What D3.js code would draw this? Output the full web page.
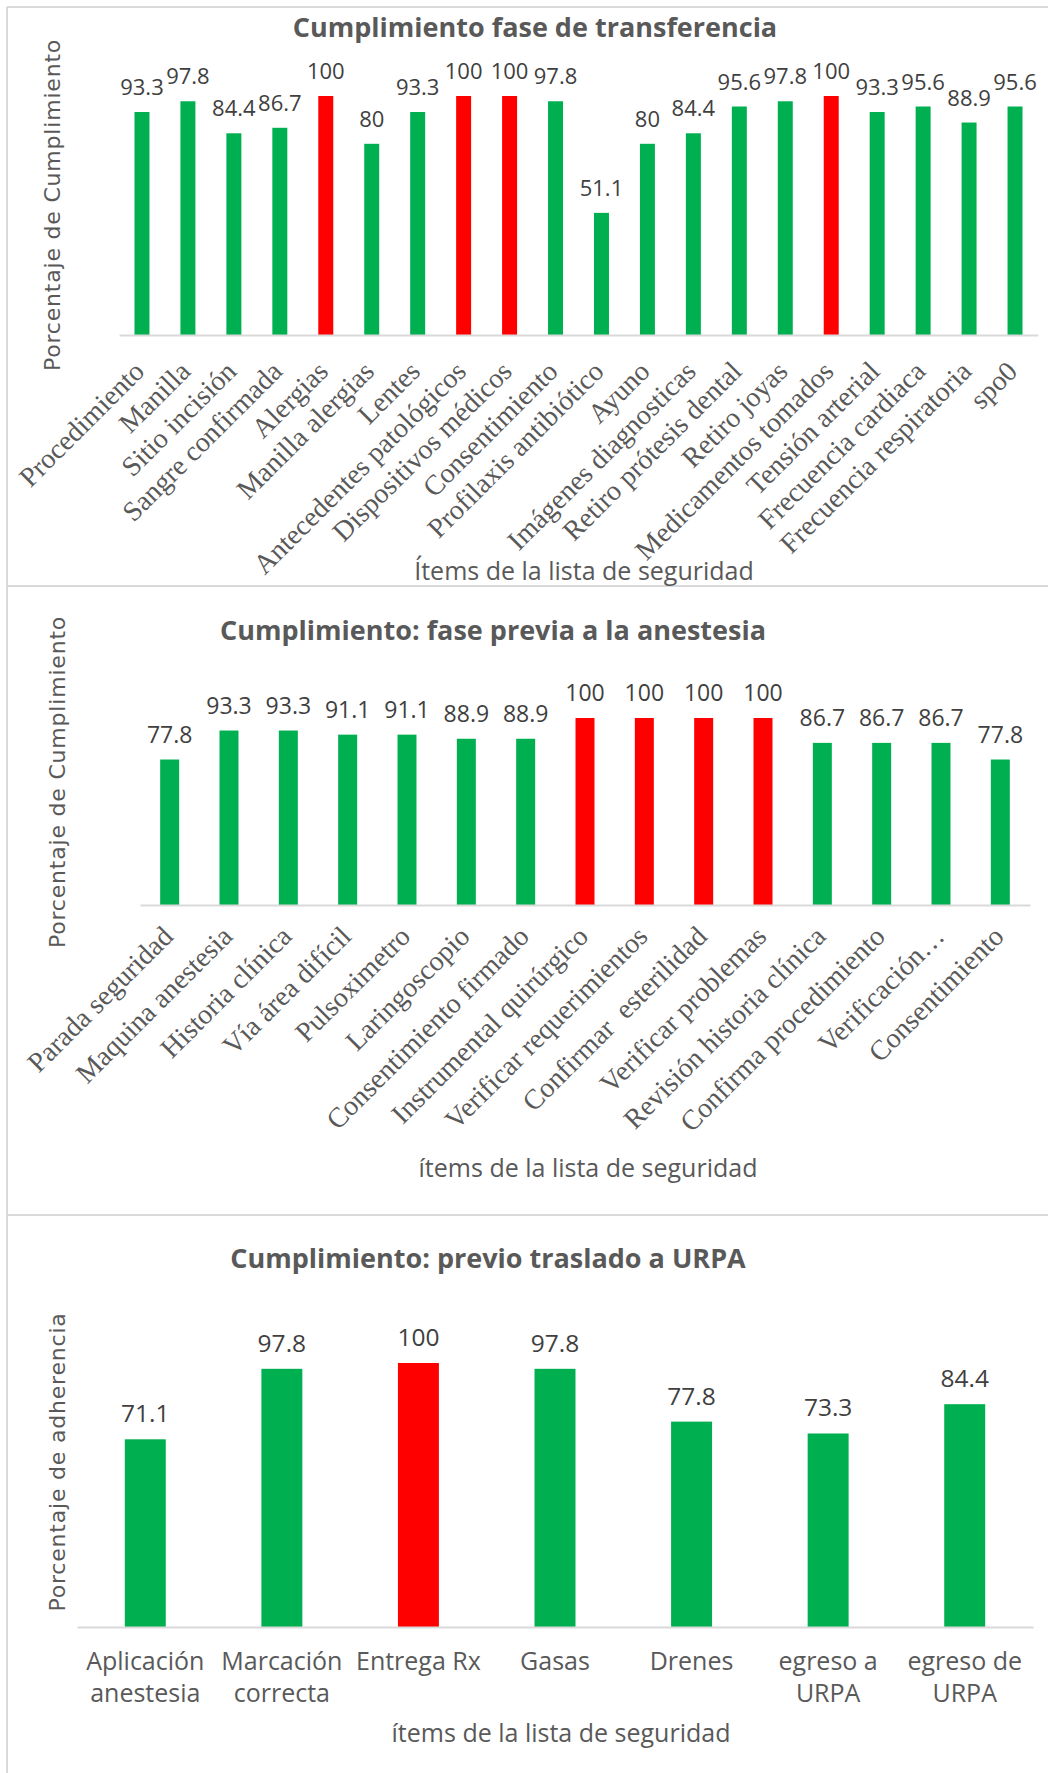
<!DOCTYPE html>
<html>
<head>
<meta charset="utf-8">
<script src="https://cdn.jsdelivr.net/npm/d3@7"></script>
<style>
  html, body { margin: 0; padding: 0; background: #fff; }
  svg text { white-space: pre; }
</style>
</head>
<body>
<div id="chart"></div>
<script>
// panel 1: fase de transferencia
const transfItems = [
  "Procedimiento", "Manilla", "Sitio incisión", "Sangre confirmada", "Alergias",
  "Manilla alergias", "Lentes", "Antecedentes patológicos", "Dispositivos médicos",
  "Consentimiento", "Profilaxis antibiótico", "Ayuno", "Imágenes diagnosticas",
  "Retiro prótesis dental", "Retiro joyas", "Medicamentos tomados", "Tensión arterial",
  "Frecuencia cardiaca", "Frecuencia respiratoria", "spo0"
];
const transfValues = [93.3, 97.8, 84.4, 86.7, 100, 80, 93.3, 100, 100, 97.8,
  51.1, 80, 84.4, 95.6, 97.8, 100, 93.3, 95.6, 88.9, 95.6];

// panel 2: fase previa a la anestesia
const previaItems = [
  "Parada seguridad", "Maquina anestesia", "Historia clínica", "Vía área difícil",
  "Pulsoximetro", "Laringoscopio", "Consentimiento firmado", "Instrumental quirúrgico",
  "Verificar requerimientos", "Confirmar  esterilidad", "Verificar problemas",
  "Revisión historia clínica", "Confirma procedimiento", "Verificación…", "Consentimiento"
];
const previaValues = [77.8, 93.3, 93.3, 91.1, 91.1, 88.9, 88.9, 100, 100, 100, 100,
  86.7, 86.7, 86.7, 77.8];

// panel 3: previo traslado a URPA (\n = line break in the label)
const urpaItems = [
  "Aplicación\nanestesia", "Marcación\ncorrecta", "Entrega Rx", "Gasas", "Drenes",
  "egreso a\nURPA", "egreso de\nURPA"
];
const urpaValues = [71.1, 97.8, 100, 97.8, 77.8, 73.3, 84.4];

const width = 1048;
const height = 1773;
const GREEN = "#00B050";
const RED = "#FF0000";
const GRID = "#d9d9d9";
const TXT = "#595959";

const svg = d3.select("#chart").append("svg")
  .attr("width", width)
  .attr("height", height);

// outer frame / separators
svg.append("line").attr("x1", 7).attr("x2", 7).attr("y1", 7).attr("y2", height)
  .attr("stroke", GRID).attr("stroke-width", 2);
for (const yy of [7, 586, 1215]) {
  svg.append("line").attr("x1", 7).attr("x2", width).attr("y1", yy).attr("y2", yy)
    .attr("stroke", GRID).attr("stroke-width", 2);
}

const panels = [
  {
    items: transfItems, values: transfValues,
    title: "Cumplimiento fase de transferencia", titleX: 535, titleY: 37,
    yTitle: "Porcentaje de Cumplimiento", yTitleX: 52, yTitleY: 205,
    xTitle: "Ítems de la lista de seguridad", xTitleX: 584, xTitleY: 580,
    x0: 119, x1: 1038, base: 335, top: 96, pad: 0.674,
    labelSize: 22, tickMode: "rot", tickSize: 28, tickDx: 4, tickDy: 38
  },
  {
    items: previaItems, values: previaValues,
    title: "Cumplimiento: fase previa a la anestesia", titleX: 493, titleY: 640,
    yTitle: "Porcentaje de Cumplimiento", yTitleX: 57, yTitleY: 782,
    xTitle: "ítems de la lista de seguridad", xTitleX: 588, xTitleY: 1177,
    x0: 140, x1: 1030, base: 905, top: 718, pad: 0.68,
    labelSize: 23, tickMode: "rot", tickSize: 28, tickDx: 5, tickDy: 33
  },
  {
    items: urpaItems, values: urpaValues,
    title: "Cumplimiento: previo traslado a URPA", titleX: 488, titleY: 1268,
    yTitle: "Porcentaje de adherencia", yTitleX: 57, yTitleY: 1462,
    xTitle: "ítems de la lista de seguridad", xTitleX: 561, xTitleY: 1742,
    x0: 77, x1: 1033, base: 1627, top: 1363, pad: 0.70,
    labelSize: 24.5, tickMode: "flat", tickSize: 25
  }
];

panels.forEach(drawPanel);

function drawPanel(p) {
  const g = svg.append("g");

  const x = d3.scaleBand().domain(p.items).range([p.x0, p.x1])
    .paddingInner(p.pad).paddingOuter(p.pad / 2);
  const y = d3.scaleLinear().domain([0, 100]).range([p.base, p.top]);

  // title
  g.append("text")
    .attr("x", p.titleX).attr("y", p.titleY)
    .attr("text-anchor", "middle")
    .attr("font-family", "'Open Sans', sans-serif")
    .attr("font-weight", 700)
    .attr("font-size", 27)
    .attr("fill", TXT)
    .text(p.title);

  // y title
  g.append("text")
    .attr("transform", `translate(${p.yTitleX},${p.yTitleY}) rotate(-90)`)
    .attr("text-anchor", "middle")
    .attr("dominant-baseline", "central")
    .attr("font-family", "'DejaVu Sans', sans-serif")
    .attr("font-size", 22)
    .attr("letter-spacing", 0.8)
    .attr("fill", TXT)
    .text(p.yTitle);

  // x title
  g.append("text")
    .attr("x", p.xTitleX).attr("y", p.xTitleY)
    .attr("text-anchor", "middle")
    .attr("font-family", "'Open Sans', sans-serif")
    .attr("font-size", 25)
    .attr("fill", TXT)
    .text(p.xTitle);

  const data = p.items.map((k, i) => ({ k, v: p.values[i] }));

  // bars
  g.selectAll(".bar").data(data).join("rect")
    .attr("class", "bar")
    .attr("x", d => x(d.k))
    .attr("width", x.bandwidth())
    .attr("y", d => y(d.v))
    .attr("height", d => y(0) - y(d.v))
    .attr("fill", d => d.v === 100 ? RED : GREEN);

  // axis line, no ticks
  const ax = g.append("g")
    .attr("transform", `translate(0,${p.base})`)
    .call(d3.axisBottom(x).tickSize(0).tickSizeOuter(0).tickFormat(""));
  ax.select(".domain").attr("stroke", GRID).attr("stroke-width", 2);
  ax.selectAll(".tick text").remove();

  // data labels
  g.selectAll(".lbl").data(data).join("text")
    .attr("class", "lbl")
    .attr("x", d => x(d.k) + x.bandwidth() / 2)
    .attr("y", d => y(d.v) - 17)
    .attr("text-anchor", "middle")
    .attr("font-family", "'Open Sans', sans-serif")
    .attr("font-size", p.labelSize)
    .attr("fill", "#404040")
    .text(d => d.v);

  // category labels
  if (p.tickMode === "rot") {
    g.selectAll(".cat").data(data).join("text")
      .attr("class", "cat")
      .attr("transform", d => `translate(${x(d.k) + x.bandwidth() / 2 + p.tickDx},${p.base + p.tickDy}) rotate(-45)`)
      .attr("text-anchor", "end")
      .attr("font-family", "'Liberation Serif', 'Times New Roman', serif")
      .attr("font-size", p.tickSize)
      .attr("fill", TXT)
      .text(d => d.k);
  } else {
    const cat = g.selectAll(".cat").data(data).join("text")
      .attr("class", "cat")
      .attr("text-anchor", "middle")
      .attr("font-family", "'Open Sans', sans-serif")
      .attr("font-size", p.tickSize)
      .attr("fill", TXT);
    cat.each(function (d) {
      const t = d3.select(this);
      d.k.split("\n").forEach((line, i) => {
        t.append("tspan")
          .attr("x", x(d.k) + x.bandwidth() / 2)
          .attr("y", p.base + 43 + i * 32)
          .text(line);
      });
    });
  }
}
</script>
</body>
</html>
